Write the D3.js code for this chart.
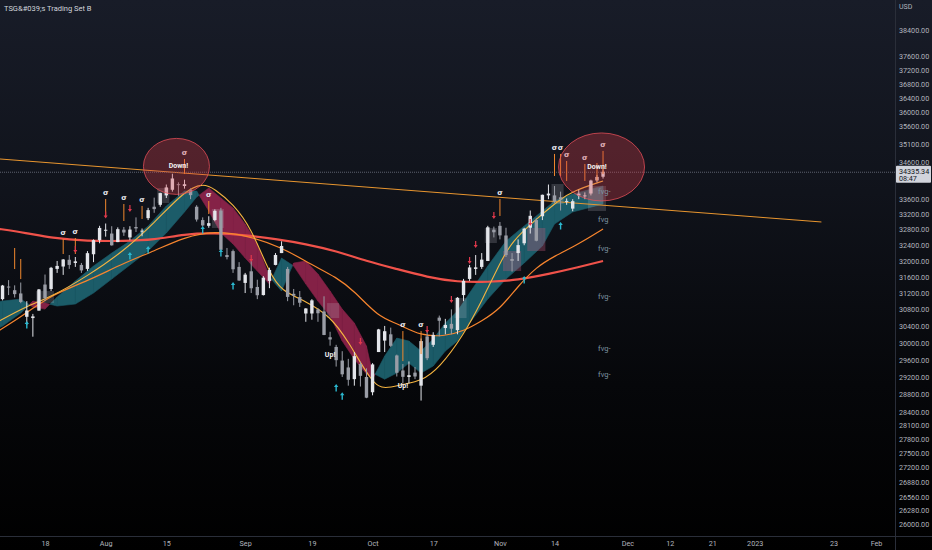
<!DOCTYPE html>
<html><head><meta charset="utf-8">
<script src="https://cdn.jsdelivr.net/npm/d3@7"></script>
<style>html,body{margin:0;padding:0;background:#000;overflow:hidden}svg{display:block}</style>
</head><body><svg id="c" width="932" height="550"></svg>
<script>
// ---------------- DATA ----------------
const title = "TSG&#039;s Trading Set B";
const currency = "USD";
const holidays = ["2022-07-04","2022-09-05","2022-11-24","2022-12-26","2023-01-02","2023-01-16"];
const candleStart = "2022-07-06";
const open = [30970,31050,31360,31270,31190,30620,30590,30770,
 31410,31300,31800,31860,32030,31950,31900,31800,32170,32530,
 32780,32700,32480,32800,32600,32870,32770,33100,33400,33450,
 33700,33850,34000,33950,33850,33400,33050,32900,33050,33300,32150,32250,31850,
 31450,31740,31350,31150,31500,31900,32200,31800,31180,31100,30700,
 30700,30800,30750,30130,29900,29580,29420,29150,29500,29200,
 28850,29780,30050,30200,29700,29350,29200,29300,29000,30150,
 29950,30600,30350,30450,30300,31150,31550,31800,31850,32000,32800,
 32900,32650,32050,32200,32450,32850,33050,33150,33700,
 33700,33650,33550,33350,33700,33700,33750,34100,34200];
const high = [31140,31400,31520,31390,31460,31000,30690,31300,
 31659,31850,32000,32050,32150,32100,31950,32250,32550,32900,
 32960,32890,32860,32870,32890,33120,32830,33370,33640,33770,
 33990,34281,34050,34120,33890,33440,33120,33150,33330,33370,32330,32290,31970,
 31700,32000,31530,31620,31830,32200,32500,31850,31300,31250,30830,
 31050,30830,31120,30260,29950,29800,29620,29780,29550,29400,
 29520,30330,30400,30360,29720,29500,29560,29430,30100,30300,
 30250,30650,30570,30800,31100,31550,31900,32150,32200,32900,32880,
 33000,32850,32200,32550,32850,33300,33100,33720,33990,
 33950,33800,33620,33600,33850,33780,34120,34250,34400];
const low = [30800,31020,31150,31090,30950,30420,30143,30770,
 31000,31250,31700,31650,31800,31850,31700,31750,31970,32450,
 32620,32390,32480,32640,32530,32740,32630,33050,33240,33400,
 33630,33800,33690,33880,33600,33010,32880,32850,33020,32270,32040,31700,31500,
 31200,31200,31050,31140,31320,31890,32200,31000,30900,30860,30500,
 30550,30500,30180,29930,29440,29200,29000,29000,28980,28715,
 28780,29780,29780,29900,29210,29050,29050,29150,28661,29590,
 29900,30150,30200,30200,30200,31000,31500,31650,31800,32000,32600,
 32550,32100,31730,32000,32400,32700,32500,33050,33600,
 33500,33300,33450,33280,33600,33600,33700,34050,34150];
const close = [31037,31385,31338,31173,30981,30773,30630,31289,
 31073,31827,31875,32037,31900,31990,31762,32198,32530,32845,
 32798,32397,32813,32727,32803,32833,32775,33310,33337,33761,
 33913,34153,33981,33999,33707,33064,32910,32970,33292,32283,32099,31791,31510,
 31657,31318,31146,31581,31775,32152,32381,31105,31135,30962,30822,
 31020,30706,30184,30077,29590,29261,29135,29684,29226,28726,
 29491,30317,30274,29927,29297,29203,29240,29211,30039,29635,
 30186,30524,30424,30334,31083,31500,31837,31839,32034,32862,32733,
 32653,32148,32001,32403,32827,33161,32514,33716,33748,
 33537,33593,33554,33547,33746,33700,34098,34195,34335.34];
const lastPrice = 34335.34;
const countdown = "08:47";

// cloud ribbon (fast / slow edges)
const ribbonDates = ["2022-07-06","2022-07-07","2022-07-12","2022-07-14","2022-07-18","2022-07-20","2022-07-25","2022-07-28","2022-08-02","2022-08-05","2022-08-10","2022-08-15","2022-08-18","2022-08-22","2022-08-24","2022-08-26","2022-08-30","2022-09-01","2022-09-06","2022-09-08","2022-09-12","2022-09-14","2022-09-16","2022-09-20","2022-09-22","2022-09-26","2022-09-28","2022-09-30","2022-10-03","2022-10-05","2022-10-07","2022-10-11","2022-10-13","2022-10-17","2022-10-19","2022-10-21","2022-10-25","2022-10-28","2022-11-02","2022-11-07","2022-11-10","2022-11-14","2022-11-17","2022-11-25"];
const ribbonFast = [30978,31002,31053,30856,30807,31102,31496,31872,32201,32507,32895,33420,33816,33816,33288,32714,32431,32074,31746,31422,32074,31872,31422,31002,30638,30039,29613,29266,29149,29685,30110,30039,29803,30087,30468,30758,31200,31872,32507,32895,33288,33551,33737,33952];
const ribbonSlow = [30325,30396,30710,31002,30954,30881,30930,31200,31546,31898,32252,32714,33262,33657,33898,33630,33367,32947,32431,31596,31249,31948,31998,31671,31249,30807,30468,29921,29289,29149,29289,29521,29289,29452,29803,30039,30468,31053,31546,31948,32380,32947,33262,33472];

// moving averages
const fastDates = ["2022-07-06","2022-07-13","2022-07-19","2022-07-27","2022-08-04","2022-08-11","2022-08-18","2022-08-23","2022-08-25","2022-08-30","2022-09-02","2022-09-08","2022-09-12","2022-09-16","2022-09-22","2022-09-27","2022-10-03","2022-10-05","2022-10-10","2022-10-13","2022-10-18","2022-10-24","2022-10-27","2022-11-01","2022-11-03","2022-11-09","2022-11-15","2022-11-17","2022-11-25"];
const fastMA = [30480,30881,31102,31621,32252,32973,33816,34031,33871,33472,32844,31696,31249,31002,30638,30039,29036,28920,29036,29104,29405,30180,31002,31948,32507,33078,33604,33816,34086];
const slowDates = ["2022-07-06","2022-07-13","2022-07-19","2022-07-27","2022-08-04","2022-08-11","2022-08-18","2022-08-25","2022-09-01","2022-09-12","2022-09-19","2022-09-23","2022-09-28","2022-10-04","2022-10-07","2022-10-13","2022-10-19","2022-10-24","2022-10-27","2022-11-01","2022-11-04","2022-11-09","2022-11-14","2022-11-18","2022-11-25"];
const slowMA = [30250,30710,31150,31496,31948,32252,32610,32766,32662,32355,31898,31596,31249,30614,30468,30158,30158,30277,30516,30807,31372,31847,32125,32431,32818];
const longDates = ["2022-07-06","2022-07-13","2022-07-19","2022-07-27","2022-08-04","2022-08-11","2022-08-18","2022-08-25","2022-09-01","2022-09-09","2022-09-16","2022-09-23","2022-09-30","2022-10-07","2022-10-14","2022-10-21","2022-10-28","2022-11-04","2022-11-11","2022-11-18","2022-11-25"];
const longMA = [32830,32714,32585,32507,32507,32533,32688,32714,32662,32559,32431,32252,31998,31797,31596,31471,31471,31521,31671,31847,31998];

// trend line
const trendDates = ["2022-07-06","2023-01-19"];
const trendPrices = [34690,33000];

// boxes
const boxStart = ["2022-08-12","2022-08-25","2022-07-15","2022-09-22","2022-10-21","2022-10-28","2022-11-02","2022-11-08","2022-11-14","2022-11-22"];
const boxEnd   = ["2022-08-15","2022-08-26","2022-07-19","2022-09-23","2022-10-24","2022-10-31","2022-11-04","2022-11-10","2022-11-15","2022-11-25"];
const boxTop   = [33898,33340,31249,30954,31077,32844,32252,32844,34004,33952];
const boxBot   = [33498,32844,30954,30590,30590,32456,31746,32252,33472,33288];
const boxKind  = ["g","g","g","g","g","g","p","p","g","g"];

// sigma signals
const sigDates = ["2022-07-11","2022-07-12","2022-07-21","2022-07-25","2022-08-01","2022-08-04","2022-08-09","2022-08-18","2022-08-24","2022-10-10","2022-10-13","2022-11-01","2022-11-14","2022-11-15","2022-11-16","2022-11-21","2022-11-23","2022-11-25"];
const sigLow  = [31797,31546,32176,32176,33157,33026,33078,34273,33208,29568,29733,33157,34220,34220,34086,34086,34086,34273];
const sigHigh = [32329,32049,32559,32585,33604,33472,33420,34682,33551,30277,30277,33604,34821,34821,34628,34546,34573,34904];
const sigMark = [false,false,true,true,true,true,true,true,true,true,true,true,true,true,true,true,false,true];

// arrows
const upDates = ["2022-07-13","2022-08-05","2022-08-10","2022-08-23","2022-08-26","2022-08-30","2022-09-23","2022-09-26","2022-11-07","2022-11-15"];
const upPrices = [30516,32227,32380,32895,32303,31471,29036,28852,31621,33000];
const dnDates = ["2022-07-25","2022-08-01","2022-08-05","2022-09-02","2022-09-29","2022-10-14","2022-10-20","2022-10-25","2022-10-26","2022-10-31","2022-11-08"];
const dnPrices = [32380,33275,33446,32150,30110,30396,31126,32100,32507,33262,33078];

// text labels
const lblDates = ["2022-08-17","2022-11-23","2022-09-22","2022-10-10"];
const lblPrices = [34492,34465,29733,29013];
const lblTexts = ["Down!","Down!","Up!","Up!"];
const circDates = ["2022-08-17","2022-11-25"];
const circPrices = [34480,34465];
const fvgDate = "2022-11-25";
const fvgPrices = [33816,33052,32329,31126,29874,29266];
const fvgTexts = ["fvg-","fvg","fvg-","fvg-","fvg-","fvg-"];

// axes
const xTickDates = ["2022-07-18","2022-08-01","2022-08-15","2022-09-01","2022-09-19","2022-10-03","2022-10-17","2022-11-01","2022-11-14","2022-12-01","2022-12-12","2022-12-21","2023-01-03","2023-01-23","2023-02-01"];
const xTickLabels = ["18","Aug","15","Sep","19","Oct","17","Nov","14","Dec","12","21","2023","23","Feb"];
const yTicks = [38400,37600,37200,36800,36400,36000,35600,35100,34600,33600,33200,32800,32400,32000,31600,31200,30800,30400,30000,29600,29200,28800,28400,28100,27800,27500,27200,26880,26560,26280,26000];

// ---------------- CHART ----------------
const W = 932, H = 550, PR = 895, PB = 536;
const parse = d3.utcParse("%Y-%m-%d"), fmt = d3.utcFormat("%Y-%m-%d");
const days = d3.utcDay.range(parse("2022-06-01"), parse("2023-03-01"))
  .filter(d => d.getUTCDay() !== 0 && d.getUTCDay() !== 6 && !holidays.includes(fmt(d)));
const dayIdx = new Map(days.map((d, i) => [fmt(d), i]));
const ix = s => dayIdx.get(s);

const x = d3.scaleLinear().domain([ix("2022-07-18"), ix("2023-02-01")]).range([45, 876]);
const y = d3.scaleLog().domain([26000, 38400]).range([524, 30]);
const X = s => x(ix(s));

const svg = d3.select("#c");
const defs = svg.append("defs");
const bg = defs.append("linearGradient").attr("id", "bg").attr("x1", 0).attr("y1", 0).attr("x2", 0).attr("y2", 1);
[["0%", "#181c28"], ["35%", "#10131b"], ["70%", "#06070a"], ["100%", "#000000"]].forEach(s => bg.append("stop").attr("offset", s[0]).attr("stop-color", s[1]));
svg.append("rect").attr("width", W).attr("height", H).attr("fill", "url(#bg)");

defs.append("clipPath").attr("id", "plot").append("rect").attr("width", PR).attr("height", PB);
const g = svg.append("g").attr("clip-path", "url(#plot)");

// ribbon: polygons between fast and slow edges, split at crossings
const TEAL = "#1f6a78", CRIM = "#9a2550";
const ribG = g.append("g").attr("opacity", 0.85);
const poly = (pts, c) => ribG.append("path").attr("d", "M" + pts.map(p => p.join(",")).join("L") + "Z")
  .attr("fill", c).attr("stroke", c).attr("stroke-width", 0.6).attr("stroke-linejoin", "round");
for (let i = 0; i < ribbonDates.length - 1; i++) {
  const xa = X(ribbonDates[i]), xb = X(ribbonDates[i + 1]);
  const fa = y(ribbonFast[i]), sa = y(ribbonSlow[i]), fb = y(ribbonFast[i + 1]), sb = y(ribbonSlow[i + 1]);
  const da = sa - fa, db = sb - fb; // >0 : fast above slow (teal)
  if (da * db >= 0) {
    poly([[xa, fa], [xb, fb], [xb, sb], [xa, sa]], (da + db) >= 0 ? TEAL : CRIM);
  } else {
    const t = da / (da - db), xc = xa + t * (xb - xa), yc = fa + t * (fb - fa);
    poly([[xa, fa], [xc, yc], [xa, sa]], da > 0 ? TEAL : CRIM);
    poly([[xc, yc], [xb, fb], [xb, sb]], db > 0 ? TEAL : CRIM);
  }
}

// boxes
g.selectAll("rect.box").data(boxStart.map((s, i) => i)).join("rect")
  .attr("x", i => X(boxStart[i]) - 3).attr("width", i => X(boxEnd[i]) - X(boxStart[i]) + 6)
  .attr("y", i => y(boxTop[i])).attr("height", i => y(boxBot[i]) - y(boxTop[i]))
  .attr("fill", i => boxKind[i] === "p" ? "rgba(185,85,120,0.35)" : "rgba(200,202,212,0.2)");

// moving averages
const line = d3.line().curve(d3.curveBasis);
function drawMA(ds, vs, color, w) {
  g.append("path").attr("d", line(ds.map((d, i) => [X(d), y(vs[i])])))
    .attr("fill", "none").attr("stroke", color).attr("stroke-width", w);
}
drawMA(longDates, longMA, "#f0524a", 2.2);
drawMA(slowDates, slowMA, "#f7852e", 1.2);
drawMA(fastDates, fastMA, "#f6b540", 1.1);

// trendline
g.append("line").attr("x1", X(trendDates[0])).attr("y1", y(trendPrices[0]))
  .attr("x2", X(trendDates[1])).attr("y2", y(trendPrices[1]))
  .attr("stroke", "#e9962f").attr("stroke-width", 1);

// price line
g.append("line").attr("x1", 0).attr("x2", PR).attr("y1", y(lastPrice) + 0.5).attr("y2", y(lastPrice) + 0.5)
  .attr("stroke", "#5d6170").attr("stroke-width", 1).attr("stroke-dasharray", "1,1");

// candles
const bars = close.map((c, i) => ({ d: fmt(days[ix(candleStart) + i]), o: open[i], h: high[i], l: low[i], c }));
const bw = 3.4;
const cg = g.append("g");
cg.selectAll("line").data(bars).join("line")
  .attr("x1", b => X(b.d)).attr("x2", b => X(b.d)).attr("y1", b => y(b.h)).attr("y2", b => y(b.l))
  .attr("stroke", b => b.c >= b.o ? "#e3e5ea" : "#9a9da6").attr("stroke-width", 1);
cg.selectAll("rect").data(bars).join("rect")
  .attr("x", b => X(b.d) - bw / 2).attr("width", bw)
  .attr("y", b => y(Math.max(b.o, b.c))).attr("height", b => Math.max(1, Math.abs(y(b.o) - y(b.c))))
  .attr("fill", b => b.c >= b.o ? "#e3e5ea" : "#9a9da6");

// sigma signals
sigDates.forEach((d, i) => {
  g.append("line").attr("x1", X(d)).attr("x2", X(d)).attr("y1", y(sigLow[i])).attr("y2", y(sigHigh[i]))
    .attr("stroke", "#f0882e").attr("stroke-width", 1);
  if (sigMark[i]) g.append("text").attr("x", X(d)).attr("y", y(sigHigh[i]) - 4).attr("text-anchor", "middle")
    .style("fill", "#ececf2").style("font", "bold 7px 'DejaVu Sans'").text("σ");
});

// arrows
upDates.forEach((d, i) => {
  const cx = X(d), ty = y(upPrices[i]);
  g.append("path").attr("d", `M${cx},${ty} l-2.2,3 h1.5 v4.5 h1.4 v-4.5 h1.5 z`).attr("fill", "#2bb8cf");
});
dnDates.forEach((d, i) => {
  const cx = X(d), ty = y(dnPrices[i]);
  g.append("path").attr("d", `M${cx - 0.6},${ty} h1.2 v4 h1.4 l-2,3 l-2,-3 h1.4 z`).attr("fill", "#e0384c");
});

// circles
const rx = [33, 43], ry = [28, 34];
circDates.forEach((d, i) => {
  g.append("ellipse").attr("cx", X(d) - (i ? 1.5 : 2)).attr("cy", y(circPrices[i])).attr("rx", rx[i]).attr("ry", ry[i])
    .attr("fill", "rgba(215,60,72,0.33)").attr("stroke", "rgba(235,80,90,0.75)").attr("stroke-width", 1);
});

// labels
lblDates.forEach((d, i) => {
  g.append("text").attr("x", X(d)).attr("y", y(lblPrices[i]) + 2.5).attr("text-anchor", "middle")
    .style("fill", "#f2f2f2").style("font", "bold 7px Roboto").text(lblTexts[i]);
});
fvgPrices.forEach((p, i) => {
  g.append("text").attr("x", X(fvgDate) - 5).attr("y", y(p) + 2.5).style("fill", "#7d93a0")
    .style("font", "7.5px Roboto").text(fvgTexts[i]);
});

// separators
svg.append("line").attr("x1", PR + 0.5).attr("x2", PR + 0.5).attr("y1", 0).attr("y2", H).attr("stroke", "#2a2e39");
svg.append("line").attr("x1", 0).attr("x2", W).attr("y1", PB + 0.5).attr("y2", PB + 0.5).attr("stroke", "#2a2e39");

// y axis
const ya = svg.append("g").attr("transform", `translate(${PR},0)`)
  .call(d3.axisRight(y).tickValues(yTicks).tickFormat(d3.format(".2f")).tickSize(0).tickPadding(4));
ya.select(".domain").remove();
ya.selectAll("text").style("fill", "#b2b5be").style("font", "7.2px Roboto");
svg.append("text").attr("x", PR + 4).attr("y", 9).style("fill", "#b2b5be").style("font", "7px Roboto").text(currency);

// x axis
const xa = svg.append("g").attr("transform", `translate(0,${PB})`)
  .call(d3.axisBottom(x).tickValues(xTickDates.map(ix)).tickFormat((d, i) => xTickLabels[i]).tickSize(0).tickPadding(5));
xa.select(".domain").remove();
xa.selectAll("text").style("fill", "#b2b5be").style("font", "7.2px Roboto");

// last price tag
const py = y(lastPrice);
svg.append("rect").attr("x", PR + 1).attr("y", py - 6).attr("width", W - PR - 2).attr("height", 17).attr("fill", "#d1d4dc").attr("rx", 1);
svg.append("text").attr("x", PR + 4).attr("y", py + 2).style("fill", "#131722").style("font", "7.2px Roboto").text(d3.format(".2f")(lastPrice));
svg.append("text").attr("x", PR + 4).attr("y", py + 9.5).style("fill", "#131722").style("font", "7.2px Roboto").text(countdown);

// title
svg.append("text").attr("x", 4).attr("y", 11).style("fill", "#d1d4dc").style("font", "7.5px Roboto").text(title);
</script></body></html>
